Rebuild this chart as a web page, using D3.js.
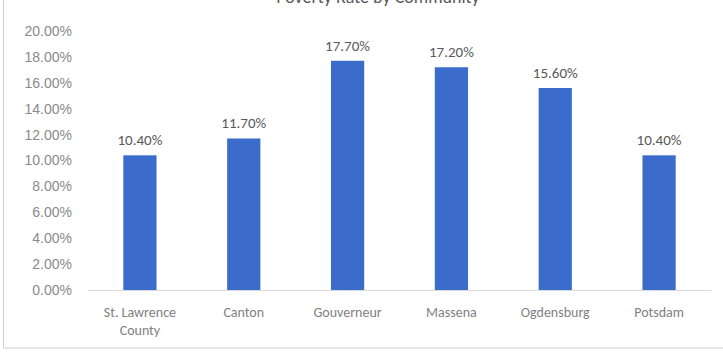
<!DOCTYPE html>
<html>
<head>
<meta charset="utf-8">
<script src="https://cdn.jsdelivr.net/npm/d3@7"></script>
<style>
  html, body { margin: 0; padding: 0; background: #ffffff; }
  svg { display: block; font-family: Carlito, "Liberation Sans Narrow", "Liberation Sans", Arial, sans-serif; }
</style>
</head>
<body>
<svg id="chart" width="723" height="356"></svg>
<script>
// Poverty rate by location
const title = "Poverty Rate by Community";
const categories = ["St. Lawrence County", "Canton", "Gouverneur", "Massena", "Ogdensburg", "Potsdam"];
const categoryLines = [["St. Lawrence", "County"], ["Canton"], ["Gouverneur"], ["Massena"], ["Ogdensburg"], ["Potsdam"]];
const values = [10.4, 11.7, 17.7, 17.2, 15.6, 10.4];
const yTicks = [0, 2, 4, 6, 8, 10, 12, 14, 16, 18, 20];

const W = 723, H = 356;
const margin = { top: 31, right: 12, bottom: 66, left: 88 };
const svg = d3.select("#chart");

// outer chart frame
svg.append("rect")
  .attr("x", 3.5).attr("y", -2).attr("width", W + 4).attr("height", 350)
  .attr("fill", "none").attr("stroke", "#d0d0d0").attr("stroke-width", 1);

// title, mostly above the visible area
svg.append("text")
  .attr("x", 378).attr("y", 3)
  .attr("text-anchor", "middle")
  .attr("font-size", 18)
  .attr("fill", "#595959")
  .text(title);

const x = d3.scaleBand()
  .domain(categories)
  .range([margin.left, W - margin.right])
  .paddingInner(0.68)
  .paddingOuter(0.34);

const y = d3.scaleLinear()
  .domain([0, 20])
  .range([H - margin.bottom, margin.top]);

// y axis labels
const yAxis = d3.axisLeft(y)
  .tickValues(yTicks)
  .tickSize(0)
  .tickPadding(0)
  .tickFormat(d => d.toFixed(2) + "%");
const gy = svg.append("g")
  .attr("transform", `translate(${margin.left - 16},0)`)
  .call(yAxis);
gy.select(".domain").remove();
gy.selectAll("text")
  .attr("font-size", 14)
  .attr("fill", "#8a8a8a")
  .attr("font-family", null);

// baseline
svg.append("line")
  .attr("x1", margin.left).attr("x2", W - margin.right)
  .attr("y1", y(0) + 0.5).attr("y2", y(0) + 0.5)
  .attr("stroke", "#d9d9d9").attr("stroke-width", 1);

// bars
svg.append("g").selectAll("rect")
  .data(values)
  .join("rect")
  .attr("x", (d, i) => x(categories[i]))
  .attr("y", d => y(d))
  .attr("width", x.bandwidth())
  .attr("height", d => y(0) - y(d))
  .attr("fill", "#3B6CCB");

// value labels
svg.append("g").selectAll("text")
  .data(values)
  .join("text")
  .attr("x", (d, i) => x(categories[i]) + x.bandwidth() / 2)
  .attr("y", d => y(d) - 10)
  .attr("text-anchor", "middle")
  .attr("font-size", 15)
  .attr("fill", "#595959")
  .text(d => d.toFixed(2) + "%");

// category labels
const gx = svg.append("g");
categories.forEach((c, i) => {
  const t = gx.append("text")
    .attr("x", x(c) + x.bandwidth() / 2)
    .attr("y", y(0) + 27)
    .attr("text-anchor", "middle")
    .attr("font-size", 14)
    .attr("fill", "#7f7f7f");
  categoryLines[i].forEach((line, j) => {
    t.append("tspan")
      .attr("x", x(c) + x.bandwidth() / 2)
      .attr("dy", j === 0 ? 0 : 18)
      .text(line);
  });
});
</script>
</body>
</html>
